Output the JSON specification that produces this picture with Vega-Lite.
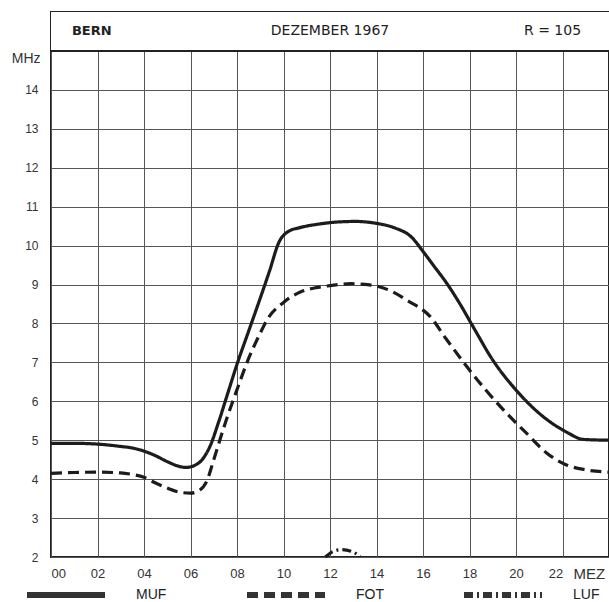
{
  "$schema": "https://vega.github.io/schema/vega-lite/v6.json",
  "width": 558,
  "height": 545,
  "autosize": "none",
  "padding": {"left": 51, "top": 12, "right": 0, "bottom": 45},
  "background": "white",
  "datasets": {
    "curves": [
      {"hour": 0, "mhz": 4.92, "series": "MUF"},
      {"hour": 1, "mhz": 4.92, "series": "MUF"},
      {"hour": 2, "mhz": 4.9, "series": "MUF"},
      {"hour": 3, "mhz": 4.84, "series": "MUF"},
      {"hour": 3.5, "mhz": 4.8, "series": "MUF"},
      {"hour": 4, "mhz": 4.72, "series": "MUF"},
      {"hour": 4.5, "mhz": 4.6, "series": "MUF"},
      {"hour": 5, "mhz": 4.45, "series": "MUF"},
      {"hour": 5.5, "mhz": 4.33, "series": "MUF"},
      {"hour": 5.8, "mhz": 4.3, "series": "MUF"},
      {"hour": 6.2, "mhz": 4.36, "series": "MUF"},
      {"hour": 6.5, "mhz": 4.5, "series": "MUF"},
      {"hour": 6.85, "mhz": 4.86, "series": "MUF"},
      {"hour": 7.2, "mhz": 5.45, "series": "MUF"},
      {"hour": 7.6, "mhz": 6.2, "series": "MUF"},
      {"hour": 8.0, "mhz": 6.95, "series": "MUF"},
      {"hour": 8.5, "mhz": 7.8, "series": "MUF"},
      {"hour": 9.0, "mhz": 8.65, "series": "MUF"},
      {"hour": 9.4, "mhz": 9.35, "series": "MUF"},
      {"hour": 9.8, "mhz": 10.08, "series": "MUF"},
      {"hour": 10.2, "mhz": 10.36, "series": "MUF"},
      {"hour": 10.7, "mhz": 10.46, "series": "MUF"},
      {"hour": 11.5, "mhz": 10.55, "series": "MUF"},
      {"hour": 12.2, "mhz": 10.6, "series": "MUF"},
      {"hour": 13.1, "mhz": 10.62, "series": "MUF"},
      {"hour": 14.0, "mhz": 10.57, "series": "MUF"},
      {"hour": 14.8, "mhz": 10.45, "series": "MUF"},
      {"hour": 15.5, "mhz": 10.22, "series": "MUF"},
      {"hour": 16.0, "mhz": 9.85, "series": "MUF"},
      {"hour": 16.5, "mhz": 9.45, "series": "MUF"},
      {"hour": 17.0, "mhz": 9.05, "series": "MUF"},
      {"hour": 17.57, "mhz": 8.52, "series": "MUF"},
      {"hour": 18.15, "mhz": 7.92, "series": "MUF"},
      {"hour": 19, "mhz": 7.06, "series": "MUF"},
      {"hour": 20, "mhz": 6.29, "series": "MUF"},
      {"hour": 21, "mhz": 5.69, "series": "MUF"},
      {"hour": 22.2, "mhz": 5.2, "series": "MUF"},
      {"hour": 22.9, "mhz": 5.02, "series": "MUF"},
      {"hour": 24, "mhz": 5.0, "series": "MUF"},
      {"hour": 0, "mhz": 4.15, "series": "FOT"},
      {"hour": 1, "mhz": 4.17, "series": "FOT"},
      {"hour": 2, "mhz": 4.18, "series": "FOT"},
      {"hour": 3, "mhz": 4.16, "series": "FOT"},
      {"hour": 3.5, "mhz": 4.12, "series": "FOT"},
      {"hour": 4, "mhz": 4.05, "series": "FOT"},
      {"hour": 4.5, "mhz": 3.9, "series": "FOT"},
      {"hour": 5, "mhz": 3.77, "series": "FOT"},
      {"hour": 5.5, "mhz": 3.67, "series": "FOT"},
      {"hour": 6.0, "mhz": 3.64, "series": "FOT"},
      {"hour": 6.4, "mhz": 3.72, "series": "FOT"},
      {"hour": 6.7, "mhz": 3.95, "series": "FOT"},
      {"hour": 7.0, "mhz": 4.5, "series": "FOT"},
      {"hour": 7.5, "mhz": 5.45, "series": "FOT"},
      {"hour": 8.0, "mhz": 6.3, "series": "FOT"},
      {"hour": 8.5, "mhz": 7.1, "series": "FOT"},
      {"hour": 9.0, "mhz": 7.75, "series": "FOT"},
      {"hour": 9.3, "mhz": 8.1, "series": "FOT"},
      {"hour": 10.0, "mhz": 8.54, "series": "FOT"},
      {"hour": 10.7, "mhz": 8.8, "series": "FOT"},
      {"hour": 11.4, "mhz": 8.92, "series": "FOT"},
      {"hour": 12.0, "mhz": 8.97, "series": "FOT"},
      {"hour": 12.9, "mhz": 9.02, "series": "FOT"},
      {"hour": 13.7, "mhz": 8.99, "series": "FOT"},
      {"hour": 14.6, "mhz": 8.84, "series": "FOT"},
      {"hour": 15.3, "mhz": 8.6, "series": "FOT"},
      {"hour": 16.3, "mhz": 8.18, "series": "FOT"},
      {"hour": 17.0, "mhz": 7.6, "series": "FOT"},
      {"hour": 17.9, "mhz": 6.88, "series": "FOT"},
      {"hour": 18.7, "mhz": 6.29, "series": "FOT"},
      {"hour": 19.6, "mhz": 5.69, "series": "FOT"},
      {"hour": 20.45, "mhz": 5.18, "series": "FOT"},
      {"hour": 21.3, "mhz": 4.68, "series": "FOT"},
      {"hour": 22.15, "mhz": 4.37, "series": "FOT"},
      {"hour": 23, "mhz": 4.24, "series": "FOT"},
      {"hour": 24, "mhz": 4.18, "series": "FOT"},
      {"hour": 11.8, "mhz": 2.0, "series": "LUF"},
      {"hour": 12.1, "mhz": 2.13, "series": "LUF"},
      {"hour": 12.5, "mhz": 2.19, "series": "LUF"},
      {"hour": 12.9, "mhz": 2.15, "series": "LUF"},
      {"hour": 13.3, "mhz": 2.02, "series": "LUF"}
    ]
  },
  "config": {
    "view": {"stroke": "#222", "strokeWidth": 2},
    "axis": {"domain": false, "ticks": false, "gridColor": "#555", "gridWidth": 1, "gridOpacity": 1, "labelColor": "#333", "labelFont": "Liberation Sans"}
  },
  "layer": [
    {
      "data": {"values": [{}]},
      "mark": {"type": "rect", "fill": "white"},
      "encoding": {
        "y": {"datum": 15, "type": "quantitative"},
        "y2": {"datum": 16}
      }
    },
    {
      "data": {"values": [{}]},
      "mark": {"type": "rule", "stroke": "#222", "strokeWidth": 2},
      "encoding": {
        "y": {"datum": 15, "type": "quantitative"}
      }
    },
    {
      "data": {"name": "curves"},
      "mark": {"type": "line", "interpolate": "monotone", "stroke": "#1c1c1c", "strokeWidth": 3.2},
      "encoding": {
        "x": {
          "field": "hour", "type": "quantitative",
          "scale": {"domain": [0, 24], "nice": false, "zero": false},
          "axis": {
            "values": [0, 2, 4, 6, 8, 10, 12, 14, 16, 18, 20, 22],
            "grid": true, "labelFontSize": 13, "labelPadding": 10,
            "labelExpr": "(datum.value < 10 ? '0' : '') + datum.value",
            "labelOffset": {"condition": {"test": "datum.value == 22", "value": -7}, "value": 0},
            "title": "MEZ", "titleFont": "Liberation Sans", "titleFontWeight": "normal", "titleFontSize": 15,
            "titleColor": "#333", "titleAlign": "left", "titleBaseline": "middle", "titleX": 522, "titleY": 16
          }
        },
        "y": {
          "field": "mhz", "type": "quantitative",
          "scale": {"domain": [2, 16], "nice": false, "zero": false},
          "axis": {
            "values": [2, 3, 4, 5, 6, 7, 8, 9, 10, 11, 12, 13, 14],
            "grid": true, "labelFontSize": 12, "labelPadding": 13,
            "title": "MHz", "titleAngle": 0, "titleFont": "Liberation Sans", "titleFontWeight": "normal",
            "titleFontSize": 14, "titleColor": "#333", "titleAlign": "right", "titleBaseline": "middle",
            "titleX": -11, "titleY": 46
          }
        },
        "strokeDash": {
          "field": "series", "type": "nominal",
          "scale": {"domain": ["MUF", "FOT", "LUF"], "range": [[1, 0], [11, 6], [9, 4, 2, 4]]},
          "legend": {
            "orient": "none", "legendX": -27, "legendY": 541, "direction": "horizontal",
            "title": null, "symbolType": "stroke", "symbolSize": 6084, "symbolStrokeWidth": 6,
            "symbolStrokeColor": "#333", "labelOffset": 28, "labelFontSize": 14,
            "labelFont": "Liberation Sans", "labelColor": "#222", "columnPadding": 68,
            "encode": {"symbols": {"update": {"strokeDash": {"signal": "datum.value == 'FOT' ? [20, 7] : datum.value == 'LUF' ? [20, 4, 4, 4] : [1, 0]"}}}}
          }
        }
      }
    },
    {
      "data": {"values": [{"label": "BERN", "hour": 0.9, "mhz": 15.5}]},
      "mark": {"type": "text", "align": "left", "baseline": "middle", "font": "DejaVu Sans", "fontWeight": "bold", "fontSize": 13, "fill": "#222"},
      "encoding": {
        "x": {"field": "hour", "type": "quantitative"},
        "y": {"field": "mhz", "type": "quantitative"},
        "text": {"field": "label"}
      }
    },
    {
      "data": {"values": [{"label": "DEZEMBER 1967", "hour": 12, "mhz": 15.5}]},
      "mark": {"type": "text", "align": "center", "baseline": "middle", "font": "DejaVu Sans", "fontSize": 14, "fill": "#222"},
      "encoding": {
        "x": {"field": "hour", "type": "quantitative"},
        "y": {"field": "mhz", "type": "quantitative"},
        "text": {"field": "label"}
      }
    },
    {
      "data": {"values": [{"label": "R = 105", "hour": 22.8, "mhz": 15.5}]},
      "mark": {"type": "text", "align": "right", "baseline": "middle", "font": "DejaVu Sans", "fontSize": 14, "fill": "#222"},
      "encoding": {
        "x": {"field": "hour", "type": "quantitative"},
        "y": {"field": "mhz", "type": "quantitative"},
        "text": {"field": "label"}
      }
    }
  ]
}
